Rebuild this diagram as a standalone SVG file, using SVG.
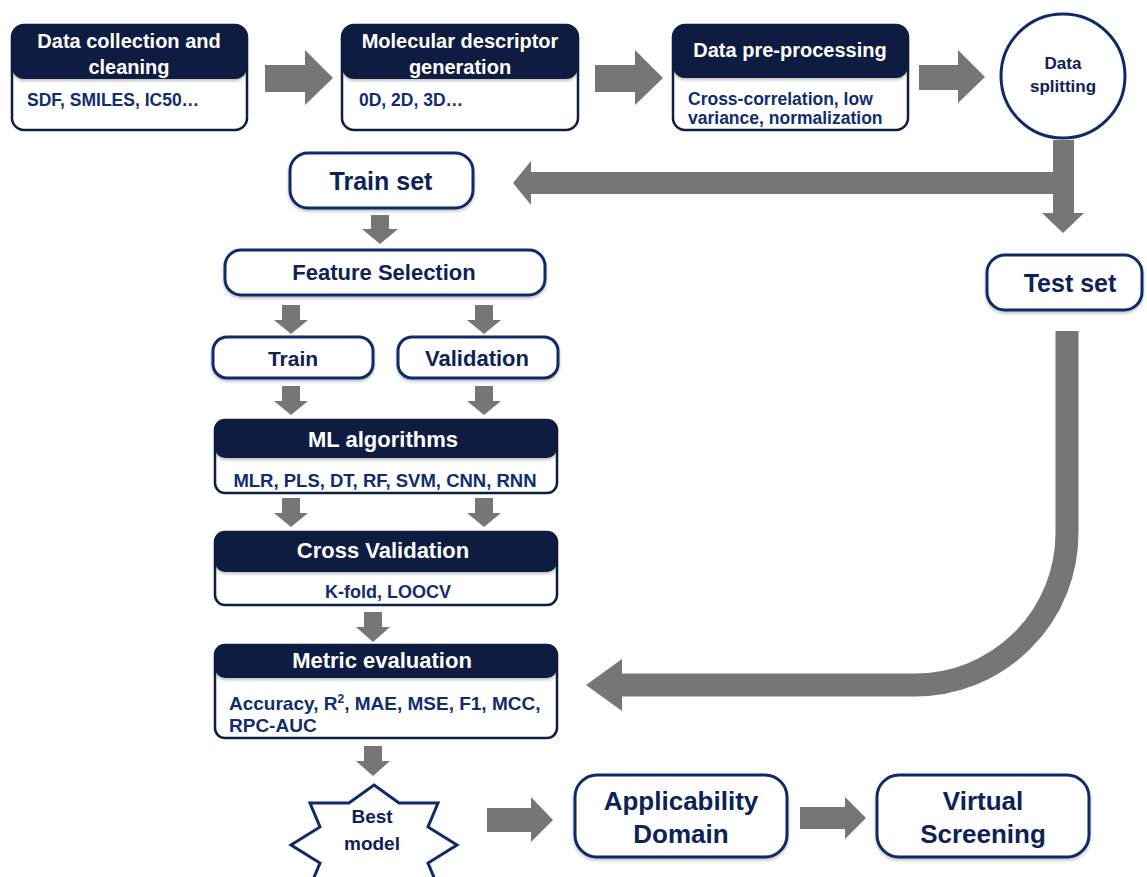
<svg xmlns="http://www.w3.org/2000/svg" width="1147" height="877" viewBox="0 0 1147 877">
<defs>
<filter id="sh" x="-10%" y="-10%" width="120%" height="130%">
<feDropShadow dx="0" dy="2" stdDeviation="1.5" flood-color="#000" flood-opacity="0.25"/>
</filter>
<style>
.box{fill:#fff;stroke:#0b1f3f;stroke-width:2.5}
.hdr{fill:#0b1f3f}
.obox{fill:#fff;stroke:#0f2a6b;stroke-width:3}
.ht{font-family:"Liberation Sans",Arial,sans-serif;font-weight:700;fill:#fff;text-anchor:middle}
.st{font-family:"Liberation Sans",Arial,sans-serif;font-weight:700;fill:#102e6e;font-size:17.5px}
.ot{font-family:"Liberation Sans",Arial,sans-serif;font-weight:700;fill:#0d2354;text-anchor:middle}
.arr{fill:#767676}
</style>
</defs>
<rect width="1147" height="877" fill="#fff"/>

<g id="connectors">
<polygon class="arr" points="265,65 305,65 305,50 333,78 305,105 305,92 265,92"/>
<polygon class="arr" points="595,65 635,65 635,50 663,78 635,105 635,92 595,92"/>
<polygon class="arr" points="919,65 958,65 958,50 985,77 958,103 958,90 919,90"/>
<polygon class="arr" points="1053,140 1074,140 1074,213 1084,213 1063,233 1042,213 1053,213"/>
<polygon class="arr" points="1074,172 1074,194 531,194 531,205 513,183 531,161 531,172"/>
<path d="M1067,331 V533 A152,152 0 0 1 915,685 H620" fill="none" stroke="#767676" stroke-width="23"/>
<polygon class="arr" points="622,659 586,685 622,711"/>
<polygon class="arr" points="371,215 389,215 389,229 398,229 380,244 362,229 371,229"/>
<polygon class="arr" points="282,305 300,305 300,320 308,320 291,334 274,320 282,320"/>
<polygon class="arr" points="475,305 493,305 493,320 501,320 484,334 467,320 475,320"/>
<polygon class="arr" points="282,386 300,386 300,401 308,401 291,415 274,401 282,401"/>
<polygon class="arr" points="475,386 493,386 493,401 501,401 484,415 467,401 475,401"/>
<polygon class="arr" points="282,498 300,498 300,513 308,513 291,527 274,513 282,513"/>
<polygon class="arr" points="475,498 493,498 493,513 501,513 484,527 467,513 475,513"/>
<polygon class="arr" points="364,612 382,612 382,627 390,627 373,642 356,627 364,627"/>
<polygon class="arr" points="364,746 382,746 382,761 390,761 373,776 356,761 364,761"/>
<polygon class="arr" points="487,808 531,808 531,797 553,820 531,842 531,832 487,832"/>
<polygon class="arr" points="800,807 845,807 845,797 866,818 845,839 845,829 800,829"/>
</g>

<g id="data-collection">
<rect class="box" x="12" y="25" width="235" height="105" rx="12"/>
<rect class="hdr" x="12" y="25" width="235" height="54" rx="12" filter="url(#sh)"/>
<text class="ht" font-size="20" x="129" y="48">Data collection and</text>
<text class="ht" font-size="20" x="129" y="74">cleaning</text>
<text class="st" x="27" y="106">SDF, SMILES, IC50…</text>
</g>

<g id="descriptor-generation">
<rect class="box" x="342" y="25" width="236" height="105" rx="12"/>
<rect class="hdr" x="342" y="25" width="236" height="54" rx="12" filter="url(#sh)"/>
<text class="ht" font-size="20" x="460" y="48">Molecular descriptor</text>
<text class="ht" font-size="20" x="460" y="74">generation</text>
<text class="st" x="359" y="106">0D, 2D, 3D…</text>
</g>

<g id="pre-processing">
<rect class="box" x="673" y="25" width="235" height="105" rx="12"/>
<rect class="hdr" x="673" y="25" width="235" height="53" rx="12" filter="url(#sh)"/>
<text class="ht" font-size="20" x="790" y="57">Data pre-processing</text>
<text class="st" x="688" y="105">Cross-correlation, low</text>
<text class="st" x="688" y="124">variance, normalization</text>
</g>

<g id="data-splitting">
<circle cx="1063" cy="76" r="62" fill="#fff" stroke="#0f2a6b" stroke-width="3"/>
<text class="ot" font-size="17" x="1063" y="69">Data</text>
<text class="ot" font-size="17" x="1063" y="92">splitting</text>
</g>

<g id="train-set">
<rect class="obox" x="290" y="153" width="183" height="55" rx="18" filter="url(#sh)"/>
<text class="ot" font-size="25" x="381" y="190">Train set</text>
</g>

<g id="test-set">
<rect class="obox" x="987" y="255" width="155" height="55" rx="18" filter="url(#sh)"/>
<text class="ot" font-size="25" x="1070" y="292">Test set</text>
</g>

<g id="feature-selection">
<rect class="obox" x="225" y="250" width="320" height="45" rx="16" filter="url(#sh)"/>
<text class="ot" font-size="22" x="384" y="280">Feature Selection</text>
</g>

<g id="train">
<rect class="obox" x="213" y="337" width="160" height="41" rx="14" filter="url(#sh)"/>
<text class="ot" font-size="21" x="293" y="366">Train</text>
</g>

<g id="validation">
<rect class="obox" x="398" y="337" width="160" height="41" rx="14" filter="url(#sh)"/>
<text class="ot" font-size="22" x="477" y="366">Validation</text>
</g>

<g id="ml-algorithms">
<rect class="box" x="215" y="420" width="342" height="73" rx="10"/>
<rect class="hdr" x="215" y="420" width="342" height="38" rx="10" filter="url(#sh)"/>
<text class="ht" font-size="22" x="383" y="447">ML algorithms</text>
<text class="st" x="385" y="487" text-anchor="middle" style="font-size:18.5px">MLR, PLS, DT, RF, SVM, CNN, RNN</text>
</g>

<g id="cross-validation">
<rect class="box" x="215" y="532" width="342" height="73" rx="10"/>
<rect class="hdr" x="215" y="532" width="342" height="40" rx="10" filter="url(#sh)"/>
<text class="ht" font-size="22" x="383" y="558">Cross Validation</text>
<text class="st" x="388" y="598" text-anchor="middle" style="font-size:18px">K-fold, LOOCV</text>
</g>

<g id="metric-evaluation">
<rect class="box" x="215" y="645" width="342" height="93" rx="10"/>
<rect class="hdr" x="215" y="645" width="342" height="33" rx="10" filter="url(#sh)"/>
<text class="ht" font-size="22" x="382" y="668">Metric evaluation</text>
<text class="st" x="229" y="710" style="font-size:19px">Accuracy, R<tspan dy="-7" style="font-size:12px">2</tspan><tspan dy="7">, MAE, MSE, F1, MCC,</tspan></text>
<text class="st" x="229" y="732" style="font-size:19px">RPC-AUC</text>
</g>

<g id="best-model">
<polygon points="374,785 399,803 438,803 428,827 457,845 428,863 438,887 399,887 374,905 349,887 310,887 320,863 291,845 320,827 310,803 349,803" fill="#fff" stroke="#0f2a6b" stroke-width="3" stroke-linejoin="miter"/>
<text class="ot" font-size="19" x="372" y="823">Best</text>
<text class="ot" font-size="19" x="372" y="850">model</text>
</g>

<g id="applicability-domain">
<rect class="obox" x="575" y="775" width="212" height="82" rx="22" filter="url(#sh)"/>
<text class="ot" font-size="26" x="681" y="810">Applicability</text>
<text class="ot" font-size="26" x="681" y="843">Domain</text>
</g>

<g id="virtual-screening">
<rect class="obox" x="877" y="775" width="212" height="82" rx="22" filter="url(#sh)"/>
<text class="ot" font-size="26" x="983" y="810">Virtual</text>
<text class="ot" font-size="26" x="983" y="843">Screening</text>
</g>
</svg>
